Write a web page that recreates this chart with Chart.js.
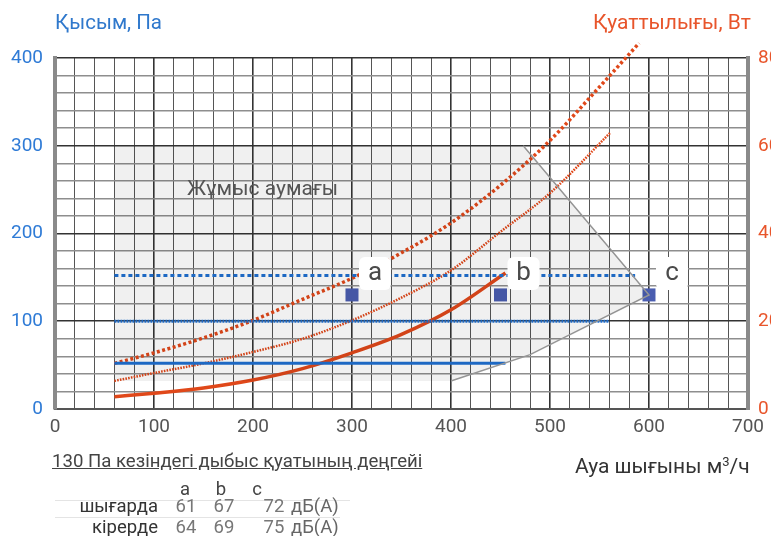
<!DOCTYPE html>
<html>
<head>
<meta charset="utf-8">
<script src="https://cdn.jsdelivr.net/npm/chart.js@4.4.1/dist/chart.umd.min.js"></script>
<style>
html, body { margin: 0; padding: 0; background: #fff; overflow: hidden; width: 771px; height: 536px; }
#wrap { position: relative; width: 771px; height: 536px; font-family: Roboto, "Liberation Sans", sans-serif; }
canvas { position: absolute; left: 0; top: 0; }
.t { position: absolute; white-space: nowrap; line-height: 1; }
</style>
</head>
<body>
<div id="wrap">
  <canvas id="chart" width="771" height="536"></canvas>
  <div class="t" style="left:55px;top:12px;font-size:20.5px;color:#2f78cc">Қысым, Па</div>
  <div class="t" style="left:593px;top:12px;font-size:21px;color:#e8552b">Қуаттылығы, Вт</div>
  <div class="t" style="left:187px;top:178px;font-size:21px;color:#555">Жұмыс аумағы</div>
  <div class="t" style="left:575px;top:455px;font-size:21px;color:#333">Ауа шығыны м<sup style="font-size:13px;vertical-align:7px">3</sup>/ч</div>
  <div class="t" style="left:52px;top:452px;font-size:18.6px;color:#444;text-decoration:underline">130 Па кезіндегі дыбыс қуатының деңгейі</div>
  <div id="table"></div>
</div>
<script>
// axis ticks
var flowTicks = [0, 100, 200, 300, 400, 500, 600, 700];
var pressureTicks = [0, 100, 200, 300, 400];
var powerTicks = [0, 200, 400, 600, 800];

// working area outline (m3/h, Pa)
var areaFlow = [60, 60, 473, 600, 480, 400];
var areaPressure = [32, 300, 300, 130, 62, 32];
var edgeFlow = [473, 600, 480, 400];
var edgePressure = [300, 130, 62, 32];

// pressure lines (Pa)
var lowFlow = [60, 455], lowPressure = [52, 52];
var midFlow = [60, 560], midPressure = [100, 100];
var highFlow = [60, 586], highPressure = [152, 152];

// power curves (W)
var powerLowFlow = [60, 100, 150, 200, 250, 300, 350, 400, 455];
var powerLow = [28, 36, 48, 66, 92, 128, 170, 226, 310];
var powerMidFlow = [60, 100, 150, 200, 250, 300, 350, 400, 450, 500, 561];
var powerMid = [64, 82, 104, 130, 160, 202, 254, 316, 404, 492, 630];
var powerHighFlow = [60, 100, 150, 200, 250, 300, 350, 400, 450, 500, 550, 590];
var powerHigh = [104, 128, 162, 202, 250, 298, 356, 424, 510, 612, 734, 834];

// marked operating points
var pointNames = ["a", "b", "c"];
var pointFlow = [300, 450, 600];
var pointPressure = [130, 130, 130];

// sound power table
var noiseRows = ["шығарда", "кірерде"];
var noiseOut = [61, 67, 72];
var noiseIn = [64, 69, 75];
var noiseUnit = "дБ(А)";

function pts(xs, ys) {
  var out = [];
  for (var i = 0; i < xs.length; i++) out.push({x: xs[i], y: ys[i]});
  return out;
}

var BLUE = "#1f6fd0";
var ORANGE = "#e0481a";

var pointLabels = {
  id: "pointLabels",
  afterDatasetsDraw: function (chart) {
    var ctx = chart.ctx;
    var xs = chart.scales.x, ys = chart.scales.y;
    ctx.save();
    for (var i = 0; i < pointNames.length; i++) {
      var cx = xs.getPixelForValue(pointFlow[i]) + 23;  // box sits up-right of the marker
      var cy = ys.getPixelForValue(pointPressure[i]) - 22;
      ctx.fillStyle = "#fff";
      ctx.beginPath();
      ctx.roundRect(cx - 16, cy - 16, 32, 33, 6);
      ctx.fill();
      ctx.fillStyle = "#4a4a4a";
      ctx.font = "26px Roboto";
      ctx.textAlign = "center";
      ctx.textBaseline = "middle";
      ctx.fillText(pointNames[i], cx, cy + 1);
    }
    ctx.restore();
  }
};

new Chart(document.getElementById("chart"), {
  type: "line",
  data: {
    datasets: [
      {data: pts(areaFlow, areaPressure), yAxisID: "y", fill: "shape", backgroundColor: "rgba(0,0,0,0.06)", borderWidth: 0, borderColor: "rgba(0,0,0,0)", pointRadius: 0, tension: 0},
      {data: pts(edgeFlow, edgePressure), yAxisID: "y", borderColor: "#9a9a9a", borderWidth: 1.5, pointRadius: 0, tension: 0},
      {data: pts(lowFlow, lowPressure), yAxisID: "y", borderColor: BLUE, borderWidth: 3, pointRadius: 0},
      {data: pts(midFlow, midPressure), yAxisID: "y", borderColor: BLUE, borderWidth: 3, borderDash: [2, 1], pointRadius: 0},
      {data: pts(highFlow, highPressure), yAxisID: "y", borderColor: BLUE, borderWidth: 3, borderDash: [4, 3], pointRadius: 0},
      {data: pts(powerLowFlow, powerLow), yAxisID: "y2", borderColor: ORANGE, borderWidth: 3.5, pointRadius: 0, cubicInterpolationMode: "monotone"},
      {data: pts(powerMidFlow, powerMid), yAxisID: "y2", borderColor: ORANGE, borderWidth: 2.5, borderDash: [1.6, 1.2], pointRadius: 0, cubicInterpolationMode: "monotone"},
      {data: pts(powerHighFlow, powerHigh), yAxisID: "y2", borderColor: ORANGE, borderWidth: 3.5, borderDash: [3, 2.5], pointRadius: 0, cubicInterpolationMode: "monotone", clip: false},
      {data: pts(pointFlow, pointPressure), yAxisID: "y", showLine: false, pointStyle: "rect", pointRadius: 9.2, pointBackgroundColor: "#4a5db0", pointBorderWidth: 0}
    ]
  },
  options: {
    responsive: false,
    animation: false,
    devicePixelRatio: 1,
    layout: {padding: {top: 58, left: 0, right: 0, bottom: 0}},
    plugins: {legend: {display: false}, tooltip: {enabled: false}},
    scales: {
      x: {
        type: "linear", min: 0, max: 700,
        afterFit: function (s) { s.height = 127; },
        ticks: {
          stepSize: 20, autoSkip: false, maxRotation: 0, padding: 7,
          color: "#555", font: {size: 19, family: "Roboto"},
          callback: function (v) { return flowTicks.indexOf(v) >= 0 ? String(v) : ""; }
        },
        grid: {
          drawTicks: false,
          color: function (c) { return c.tick && c.tick.value % 100 === 0 ? "#333" : "#555"; },
          lineWidth: function (c) { return c.tick && c.tick.value % 100 === 0 ? 1.6 : 1; }
        },
        border: {color: "#555", width: 2}
      },
      y: {
        type: "linear", position: "left", min: 0, max: 400,
        afterFit: function (s) { s.width = 55; },
        ticks: {
          stepSize: 20, autoSkip: false, padding: 12,
          color: "#2f7bd6", font: {size: 19, family: "Roboto"},
          callback: function (v) { return pressureTicks.indexOf(v) >= 0 ? String(v) : ""; }
        },
        grid: {
          drawTicks: false,
          color: function (c) { return c.tick && c.tick.value % 100 === 0 ? "#333" : "#8e8e8e"; },
          lineWidth: function (c) { return c.tick && c.tick.value % 100 === 0 ? 1.6 : 1.5; }
        },
        border: {color: "#8a8a8a", width: 4}
      },
      y2: {
        type: "linear", position: "right", min: 0, max: 800,
        afterFit: function (s) { s.width = 23; },
        ticks: {
          stepSize: 200, autoSkip: false, padding: 10,
          color: "#e8552b", font: {size: 19, family: "Roboto"},
          callback: function (v) { return powerTicks.indexOf(v) >= 0 ? String(v) : ""; }
        },
        grid: {drawOnChartArea: false, drawTicks: false},
        border: {color: "#8a8a8a", width: 4}
      }
    }
  },
  plugins: [pointLabels]
});

// sound power table under the chart
var table = document.getElementById("table");
function cell(text, left, y, align, w, color) {
  var d = document.createElement("div");
  d.className = "t";
  d.style.fontSize = "18.5px";
  d.style.color = color || "#444";
  d.style.top = y + "px";
  d.style.width = w + "px";
  d.style.left = (align === "right" ? left - w : align === "center" ? left - w / 2 : left) + "px";
  d.style.textAlign = align;
  d.textContent = text;
  table.appendChild(d);
}
function rule(y, left, width) {
  var d = document.createElement("div");
  d.style.position = "absolute";
  d.style.left = left + "px";
  d.style.top = y + "px";
  d.style.width = width + "px";
  d.style.height = "1px";
  d.style.background = "#e4e4e4";
  table.appendChild(d);
}
var headX = [185, 221, 257];
var valX = [186, 224, 274];
for (var i = 0; i < pointNames.length; i++) cell(pointNames[i], headX[i], 480, "center", 30);
rule(500, 55, 295);
var rowVals = [noiseOut, noiseIn];
for (var r = 0; r < noiseRows.length; r++) {
  var rowTop = 497 + r * 21;
  cell(noiseRows[r], 158, rowTop, "right", 100, "#333");
  for (var k = 0; k < rowVals[r].length; k++) cell(String(rowVals[r][k]), valX[k], rowTop, "center", 30, "#777");
  cell(noiseUnit, 291, rowTop, "left", 60, "#666");
}
rule(517, 55, 285);
</script>
</body>
</html>
